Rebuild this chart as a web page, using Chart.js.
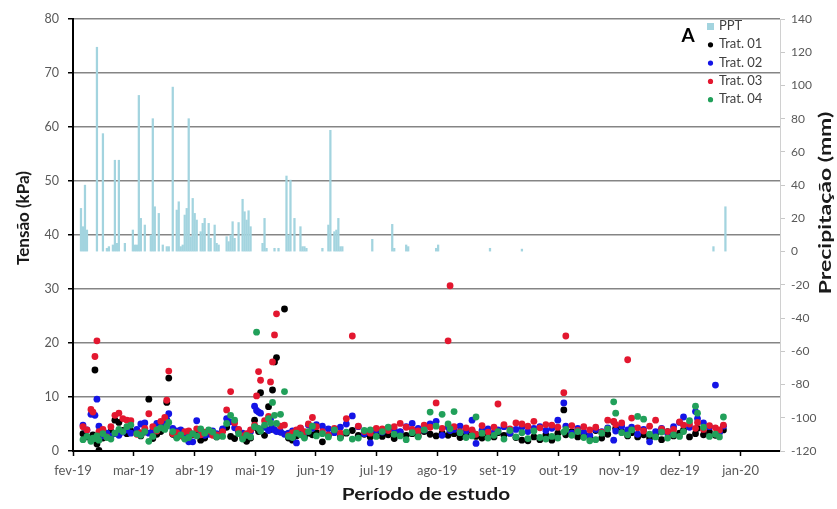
<!DOCTYPE html>
<html>
<head>
<meta charset="utf-8">
<script src="https://cdn.jsdelivr.net/npm/chart.js@4"></script>
<style>
  html, body { margin: 0; background: #fff; }
</style>
</head>
<body>
<canvas id="chart" width="837" height="509"></canvas>
<script>
const monthLabels = ['fev-19', 'mar-19', 'abr-19', 'mai-19', 'jun-19', 'jul-19',
  'ago-19', 'set-19', 'out-19', 'nov-19', 'dez-19', 'jan-20'];

// days counted from 1 Feb 2019
const days = [5, 7, 9, 10, 11, 12, 13, 15, 17, 19,
  21, 23, 25, 27, 29, 32, 34, 36, 38, 40,
  42, 44, 46, 47, 48, 50, 52, 54, 56, 58,
  60, 62, 64, 66, 68, 70, 72, 75, 77, 79,
  81, 83, 85, 87, 89, 91, 92, 93, 94, 96,
  98, 99, 100, 101, 102, 104, 106, 108, 110, 112,
  114, 116, 118, 120, 122, 125, 128, 131, 134, 137,
  140, 143, 146, 149, 152, 155, 158, 161, 164, 167,
  170, 173, 176, 179, 182, 185, 188, 189, 191, 194,
  197, 200, 202, 205, 208, 211, 213, 216, 219, 222,
  225, 228, 231, 234, 237, 240, 243, 246, 247, 250,
  253, 256, 259, 262, 265, 268, 271, 272, 275, 278,
  280, 283, 286, 289, 292, 295, 298, 301, 304, 306,
  309, 312, 313, 316, 319, 322, 324, 326];

const trat01 = [3.2, 2.6, 2.2, 3.0, 15.0, 1.3, 0.1, 2.4, 3.0, 3.6,
  5.7, 5.3, 3.8, 3.2, 3.7, 3.4, 2.8, 3.5, 9.6, 2.3,
  3.1, 3.6, 5.0, 9.0, 13.5, 3.1, 2.6, 2.9, 2.4, 3.5,
  3.0, 3.3, 2.0, 2.4, 3.6, 3.3, 2.6, 3.8, 4.4, 2.7,
  2.3, 3.6, 2.6, 1.8, 2.4, 5.7, 4.3, 3.6, 10.8, 2.9,
  8.2, 4.0, 11.3, 16.5, 17.3, 3.5, 26.3, 2.4, 2.0, 2.8,
  3.6, 2.7, 3.3, 3.0, 3.4, 1.7, 2.9, 3.5, 2.6, 3.3,
  3.8, 2.9, 3.1, 2.6, 3.4, 2.7, 3.0, 2.3, 3.5, 2.9,
  3.2, 2.8, 3.6, 3.1, 2.8, 3.3, 2.9, 3.6, 3.2, 2.5,
  3.0, 3.7, 2.7, 2.4, 3.1, 2.6, 3.4, 2.9, 3.3, 2.5,
  2.0, 1.9, 2.6, 2.1, 3.0, 2.0, 3.3, 7.6, 3.0, 3.6,
  2.6, 3.2, 2.7, 3.8, 2.4, 3.1, 5.4, 4.2, 3.6, 2.8,
  3.4, 2.6, 3.0, 2.4, 3.2, 2.1, 3.6, 2.8, 3.3, 3.9,
  2.6, 3.2, 4.2, 3.0, 3.5, 2.9, 3.6, 3.9];

const trat02 = [4.8, 3.9, 6.8, 7.0, 6.6, 9.6, 4.6, 2.8, 3.3, 2.7,
  3.2, 2.9, 3.5, 3.9, 3.3, 4.0, 5.0, 5.2, 3.3, 3.8,
  5.1, 5.0, 5.4, 5.8, 6.9, 4.2, 3.7, 3.9, 2.9, 1.7,
  1.7, 5.6, 3.6, 2.9, 3.1, 3.7, 3.2, 4.1, 6.0, 5.4,
  4.3, 3.9, 3.3, 3.1, 3.6, 8.3, 7.5, 7.2, 7.0, 4.4,
  3.8, 5.9, 4.3, 3.9, 3.6, 3.5, 3.1, 3.3, 3.7, 1.5,
  4.2, 3.4, 4.8, 4.2, 4.9, 4.6, 4.1, 3.4, 4.4, 5.0,
  6.5, 4.5, 3.2, 1.5, 3.8, 3.5, 4.3, 3.9, 3.6, 4.5,
  5.1, 4.2, 3.9, 5.0, 5.5, 2.9, 4.4, 3.8, 4.0, 4.6,
  3.7, 5.7, 1.4, 3.8, 4.1, 3.4, 3.9, 4.5, 3.3, 4.0,
  4.4, 3.6, 4.2, 4.5, 3.8, 4.2, 5.7, 8.9, 4.6, 3.3,
  4.2, 3.5, 2.9, 4.0, 3.6, 4.3, 2.0, 3.7, 4.6, 3.9,
  4.4, 3.1, 4.0, 1.7, 3.6, 4.2, 3.3, 4.5, 5.3, 6.3,
  4.4, 7.3, 6.0, 5.2, 4.5, 12.2, 3.4, 4.6];

const trat03 = [4.5, 3.9, 7.7, 7.2, 17.5, 20.4, 3.6, 4.0, 2.6, 4.5,
  6.6, 7.0, 6.0, 5.7, 5.6, 3.1, 3.4, 4.2, 6.9, 4.5,
  3.7, 5.5, 6.2, 9.4, 14.8, 3.2, 3.4, 2.8, 3.6, 3.7,
  3.1, 4.1, 3.0, 3.5, 3.7, 2.9, 3.0, 3.6, 7.6, 11.0,
  5.2, 4.0, 2.8, 3.2, 3.9, 4.8, 10.2, 14.7, 13.1, 5.6,
  6.4, 12.8, 16.5, 21.5, 25.4, 4.6, 4.8, 2.9, 3.4, 3.9,
  4.3, 3.6, 5.0, 6.2, 4.5, 3.6, 3.0, 4.2, 3.3, 6.0,
  21.3, 4.6, 3.6, 3.3, 4.2, 4.1, 3.8, 4.5, 5.1, 4.4,
  4.0, 3.7, 4.8, 4.4, 8.9, 4.2, 20.4, 30.6, 4.5, 3.6,
  4.3, 3.9, 3.1, 4.7, 3.5, 4.4, 8.7, 4.9, 4.1, 5.2,
  5.0, 4.6, 5.5, 4.3, 4.9, 4.8, 4.4, 10.8, 21.3, 4.7,
  3.8, 4.5, 3.9, 4.4, 3.5, 5.7, 5.5, 4.9, 5.2, 16.9,
  6.1, 4.3, 3.7, 4.6, 5.7, 4.1, 3.6, 4.0, 5.4, 4.8,
  5.0, 4.2, 5.3, 4.0, 4.7, 4.3, 3.9, 4.8];

const trat04 = [2.1, 2.7, 1.8, 2.4, 2.3, 2.8, 2.0, 3.2, 2.5, 2.2,
  3.3, 4.0, 3.6, 4.5, 4.8, 3.2, 2.9, 3.6, 1.8, 2.7,
  3.9, 4.3, 4.0, 4.6, 5.3, 3.6, 2.4, 3.0, 2.2, 2.5,
  3.2, 2.8, 4.1, 3.3, 3.9, 3.5, 2.6, 2.7, 5.1, 6.6,
  5.7, 3.2, 2.2, 2.9, 2.6, 4.5, 22.0, 4.2, 3.7, 4.8,
  6.0, 5.2, 9.0, 6.6, 5.1, 6.8, 11.0, 2.7, 2.5, 3.3,
  3.0, 2.4, 3.6, 4.6, 2.8, 3.2, 2.6, 3.9, 2.4, 3.5,
  2.2, 2.4, 3.8, 3.9, 2.7, 3.6, 4.4, 3.1, 2.8, 2.1,
  3.4, 2.6, 3.9, 7.2, 4.6, 6.8, 5.0, 4.1, 7.3, 3.4,
  2.5, 2.8, 6.3, 3.3, 2.4, 2.9, 3.6, 2.2, 3.8, 2.6,
  3.4, 2.3, 3.7, 2.5, 2.2, 2.7, 2.4, 3.5, 4.0, 2.9,
  3.6, 2.5, 1.9, 2.1, 3.3, 4.1, 9.1, 7.0, 3.4, 3.0,
  3.9, 6.4, 5.9, 3.1, 2.6, 3.5, 2.4, 3.0, 2.7, 3.6,
  5.6, 8.3, 7.0, 4.4, 2.7, 3.1, 2.6, 6.3];

const pptDays = [4, 5, 6, 7, 12, 15, 17, 18, 20, 21,
  22, 23, 26, 30, 31, 32, 33, 34, 36, 39,
  40, 41, 43, 45, 47, 48, 50, 52, 53, 54,
  55, 56, 57, 58, 59, 60, 61, 62, 64, 65,
  66, 68, 69, 71, 72, 73, 77, 78, 79, 80,
  81, 83, 85, 86, 87, 88, 89, 95, 96, 97,
  101, 103, 107, 108, 109, 111, 114, 115, 116, 117,
  125, 128, 129, 131, 132, 133, 134, 135, 150, 160,
  161, 167, 168, 182, 183, 209, 225, 321, 327];

const pptValues = [26, 15, 40, 13, 123, 71, 2, 3, 4, 55,
  5, 55, 5, 13, 4, 4, 94, 20, 16, 10,
  80, 27, 23, 4, 3, 3, 99, 25, 30, 3,
  4, 22, 26, 80, 9, 32, 23, 19, 12, 17,
  20, 17, 8, 16, 5, 4, 9, 6, 10, 18,
  8, 17.5, 31.5, 24, 19, 24.6, 15, 5, 20, 2,
  2, 2, 45.5, 10, 43, 20, 15, 3, 3, 2,
  2, 16, 73, 12, 13, 20, 3, 3, 7.4, 16.4,
  2, 4, 3, 2, 4, 2, 1.5, 3, 27];

const toPoints = (xs, ys) => xs.map((x, i) => ({ x: x, y: ys[i] }));

const tickStep = 365 / 12;
const fontFamily = 'Lato, "Open Sans", sans-serif';
const labelColor = '#595959';
const colors = {
  ppt: '#a3d4df',
  t1: '#000000',
  t2: '#1414e6',
  t3: '#e3172f',
  t4: '#21a05a'
};

// draws text centred at (x, y), rotated and stretched along its length
function titleText(ctx, text, x, y, angle, stretch) {
  ctx.save();
  ctx.translate(x, y);
  ctx.rotate(angle);
  ctx.scale(stretch, 1);
  ctx.fillText(text, 0, 0);
  ctx.restore();
}

// legend, panel letter and axis titles
const overlay = {
  id: 'overlay',
  afterDraw(chart) {
    const ctx = chart.ctx;
    ctx.save();

    const items = [
      { text: 'PPT', color: colors.ppt, square: true },
      { text: 'Trat. 01', color: colors.t1 },
      { text: 'Trat. 02', color: colors.t2 },
      { text: 'Trat. 03', color: colors.t3 },
      { text: 'Trat. 04', color: colors.t4 }
    ];
    ctx.font = '13px ' + fontFamily;
    ctx.textBaseline = 'middle';
    ctx.textAlign = 'left';
    items.forEach((it, i) => {
      const y = 26 + i * 18.3;
      ctx.fillStyle = it.color;
      if (it.square) {
        ctx.fillRect(707, y - 3, 7, 7);
      } else {
        ctx.beginPath();
        ctx.arc(710.5, y + 0.5, 2.6, 0, Math.PI * 2);
        ctx.fill();
      }
      ctx.fillStyle = '#404040';
      ctx.fillText(it.text, 719, y);
    });

    ctx.fillStyle = '#000';
    ctx.font = 'bold 19px ' + fontFamily;
    ctx.textAlign = 'center';
    ctx.fillText('A', 688, 36);

    ctx.fillStyle = '#1a1a1a';
    ctx.font = 'bold 17px ' + fontFamily;
    titleText(ctx, 'Período de estudo', 426, 495, 0, 1.22);
    titleText(ctx, 'Tensão (kPa)', 24, 218, -Math.PI / 2, 1);
    titleText(ctx, 'Precipitação (mm)', 826, 203, -Math.PI / 2, 1.35);

    ctx.restore();
  }
};

new Chart(document.getElementById('chart'), {
  type: 'scatter',
  data: {
    datasets: [
      {
        type: 'bar',
        label: 'PPT',
        data: toPoints(pptDays, pptValues),
        yAxisID: 'y2',
        backgroundColor: colors.ppt,
        barThickness: 1.6,
        order: 5
      },
      { label: 'Trat. 01', data: toPoints(days, trat01), backgroundColor: colors.t1, order: 4 },
      { label: 'Trat. 02', data: toPoints(days, trat02), backgroundColor: colors.t2, order: 3 },
      { label: 'Trat. 03', data: toPoints(days, trat03), backgroundColor: colors.t3, order: 2 },
      { label: 'Trat. 04', data: toPoints(days, trat04), backgroundColor: colors.t4, order: 1 }
    ]
  },
  options: {
    responsive: false,
    animation: false,
    layout: { padding: { top: 19, left: 0, right: 0, bottom: 0 } },
    plugins: {
      legend: { display: false },
      tooltip: { enabled: false }
    },
    elements: {
      point: { radius: 3.4, hoverRadius: 3.4, borderWidth: 0 }
    },
    scales: {
      x: {
        type: 'linear',
        offset: false,
        min: 0,
        max: tickStep * 11.65,
        afterBuildTicks: s => {
          s.ticks = monthLabels.map((_, i) => ({ value: i * tickStep }));
        },
        afterFit: s => { s.height = 58; },
        ticks: {
          autoSkip: false,
          maxRotation: 0,
          padding: 7,
          color: labelColor,
          font: { family: fontFamily, size: 13 },
          callback: (v, i) => monthLabels[i]
        },
        grid: { offset: false, drawOnChartArea: false, tickLength: 5, tickColor: '#000', tickWidth: 1.5 },
        border: { color: '#000', width: 2 }
      },
      y: {
        type: 'linear',
        position: 'left',
        min: 0,
        max: 80,
        afterFit: s => { s.width = 73; },
        ticks: { stepSize: 10, padding: 9, color: labelColor, font: { family: fontFamily, size: 12.5 } },
        grid: { color: '#858585', lineWidth: 1.5, tickColor: '#000', tickLength: 5 },
        border: { color: '#000', width: 2 }
      },
      y2: {
        type: 'linear',
        position: 'right',
        min: -120,
        max: 140,
        afterFit: s => { s.width = 57; },
        ticks: { stepSize: 20, padding: 6, color: labelColor, font: { family: fontFamily, size: 12 } },
        grid: { drawOnChartArea: false, tickColor: '#c8c8c8', tickLength: 5 },
        border: { color: '#d0d0d0', width: 1 }
      }
    }
  },
  plugins: [overlay]
});
</script>
</body>
</html>
